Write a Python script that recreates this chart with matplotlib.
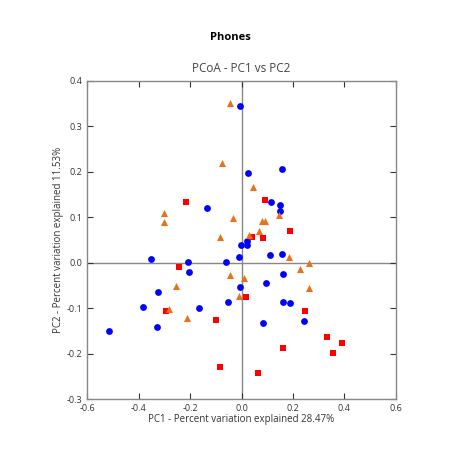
import numpy as np
import matplotlib
matplotlib.use("Agg")
import matplotlib.pyplot as plt

plt.rcParams['font.family'] = ['Open Sans', 'DejaVu Sans']

# PCoA coordinates
blue_x = [-0.006, 0.027, 0.157, -0.134, 0.116, 0.150, 0.150, 0.020, -0.002, 0.020,
          -0.011, 0.112, 0.159, -0.060, -0.353, -0.207, -0.205, 0.160, 0.094, -0.006,
          -0.325, -0.053, -0.383, -0.167, -0.328, -0.515, 0.160, 0.190, 0.242, 0.085]
blue_y = [0.344, 0.198, 0.205, 0.121, 0.133, 0.127, 0.113, 0.048, 0.040, 0.039,
          0.012, 0.016, 0.019, 0.001, 0.009, 0.001, -0.020, -0.025, -0.045, -0.054,
          -0.064, -0.087, -0.097, -0.099, -0.141, -0.149, -0.087, -0.089, -0.127, -0.133]

red_x = [-0.217, 0.093, 0.189, 0.040, 0.085, -0.243, 0.016, -0.294, -0.098, -0.083,
         0.249, 0.333, 0.392, 0.356, 0.160, 0.065]
red_y = [0.134, 0.138, 0.069, 0.057, 0.054, -0.009, -0.075, -0.106, -0.126, -0.229,
         -0.106, -0.163, -0.177, -0.198, -0.187, -0.242]

orange_x = [-0.045, -0.075, -0.300, -0.300, -0.033, -0.084, 0.046, 0.145, 0.079, 0.090,
            0.069, 0.030, 0.184, 0.229, 0.264, -0.046, 0.011, 0.262, -0.010, -0.255,
            -0.281, -0.214]
orange_y = [0.350, 0.220, 0.110, 0.090, 0.099, 0.057, 0.166, 0.104, 0.092, 0.092,
            0.069, 0.061, 0.013, -0.013, -0.001, -0.028, -0.033, -0.055, -0.073, -0.051,
            -0.101, -0.121]

fig = plt.figure(figsize=(4.6, 4.55), dpi=100)
ax = fig.add_axes([0.190, 0.1226, 0.670, 0.7])

ax.axhline(0, color='#888888', lw=1, zorder=1)
ax.axvline(0, color='#888888', lw=1, zorder=1)

ax.scatter(blue_x, blue_y, s=24, c='#0000ff', marker='o', linewidths=0, zorder=3)
ax.scatter(red_x, red_y, s=22, c='#ff0000', marker='s', linewidths=0, zorder=3)
ax.scatter(orange_x, orange_y, s=26, c='#e8711c', marker='^', linewidths=0, zorder=3)

ax.set_xlim(-0.6, 0.6)
ax.set_ylim(-0.3, 0.4)
ax.set_xticks(np.arange(-0.6, 0.61, 0.2))
ax.set_yticks(np.arange(-0.3, 0.41, 0.1))
ax.set_xticklabels(['-0.6', '-0.4', '-0.2', '0.0', '0.2', '0.4', '0.6'])
ax.set_yticklabels(['-0.3', '-0.2', '-0.1', '0.0', '0.1', '0.2', '0.3', '0.4'])
ax.tick_params(direction='in', top=True, right=True, labelsize=6.5,
               colors='#333333', length=4, width=0.8)
for sp in ax.spines.values():
    sp.set_color('#888888')
    sp.set_linewidth(1)

ax.set_xlabel('PC1 - Percent variation explained 28.47%', fontsize=7, color='#333333', labelpad=1)
ax.set_ylabel('PC2 - Percent variation explained 11.53%', fontsize=7, color='#333333', labelpad=2)
ax.set_title('PCoA - PC1 vs PC2', fontsize=8.5, color='#444444', pad=6)
fig.text(0.5, 0.917, 'Phones', ha='center', va='center', fontsize=8, fontweight='bold')

fig.savefig('out.png', dpi=100)
